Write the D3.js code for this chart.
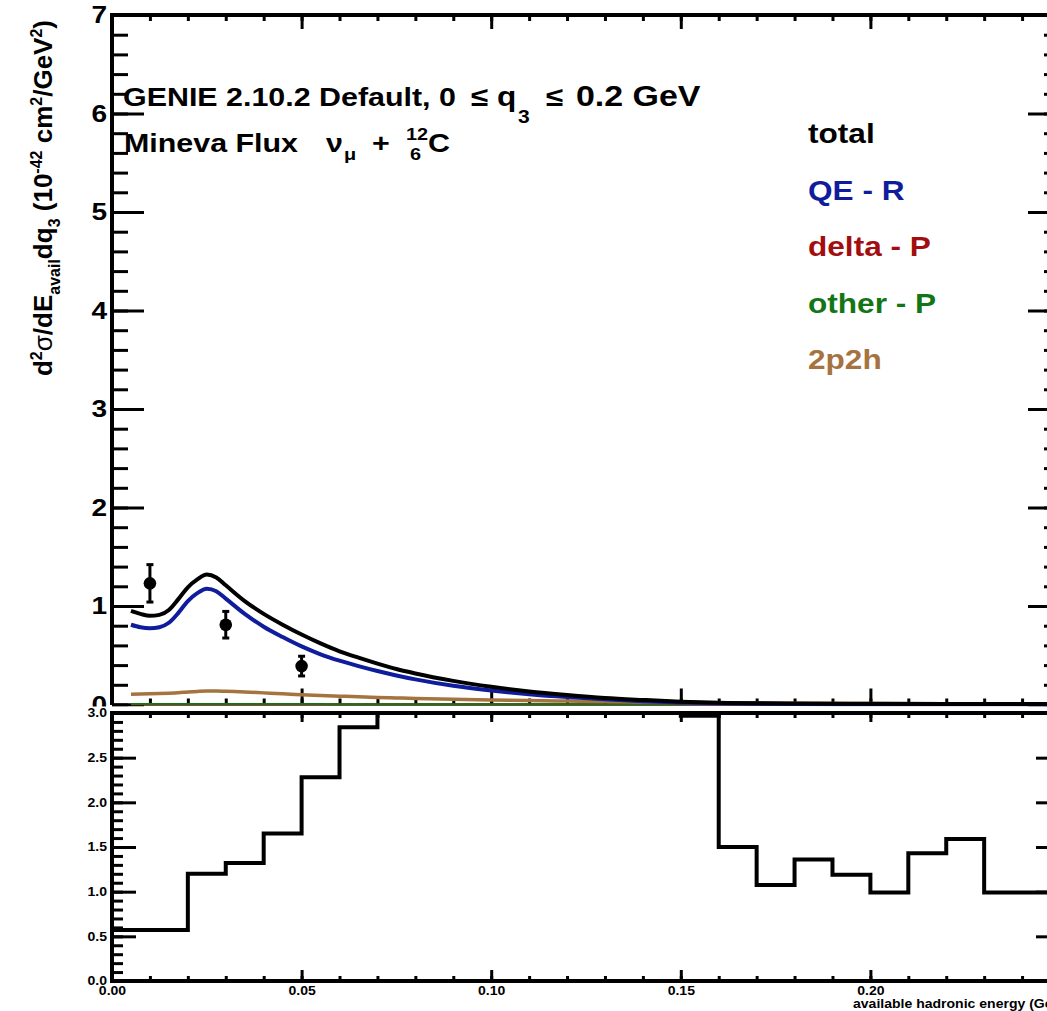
<!DOCTYPE html>
<html>
<head>
<meta charset="utf-8">
<script src="https://cdn.jsdelivr.net/npm/d3@7"></script>
<style>
  body { margin: 0; background: #fff; }
  svg { display: block; }
  text { font-family: "Liberation Sans", Arial, Helvetica, sans-serif; font-weight: bold; }
</style>
</head>
<body>
<svg id="chart" width="1047" height="1011"></svg>
<script>
// ---- model predictions, sampled in available hadronic energy (GeV) ----
const energy = [0.005, 0.0075, 0.01, 0.0125, 0.015, 0.0175, 0.02, 0.0225, 0.025, 0.0275, 0.03,
  0.035, 0.04, 0.045, 0.05, 0.055, 0.06, 0.065, 0.07, 0.075, 0.08, 0.09, 0.10, 0.11, 0.12,
  0.13, 0.14, 0.15, 0.16, 0.18, 0.20, 0.22, 0.25];
const total = [0.95, 0.92, 0.90, 0.91, 0.96, 1.07, 1.19, 1.27, 1.32, 1.29, 1.21,
  1.05, 0.92, 0.81, 0.71, 0.62, 0.54, 0.475, 0.415, 0.36, 0.315, 0.24, 0.18, 0.132, 0.096,
  0.066, 0.046, 0.029, 0.019, 0.010, 0.007, 0.006, 0.005];
const qeR = [0.81, 0.785, 0.775, 0.785, 0.83, 0.93, 1.05, 1.13, 1.175, 1.15, 1.075,
  0.92, 0.79, 0.685, 0.59, 0.51, 0.445, 0.39, 0.34, 0.295, 0.255, 0.19, 0.142, 0.104, 0.075,
  0.052, 0.034, 0.021, 0.013, 0.005, 0.003, 0.002, 0.001];
const deltaP = [0, 0, 0, 0, 0, 0, 0, 0, 0, 0, 0,
  0, 0, 0, 0, 0, 0, 0, 0, 0, 0, 0, 0, 0, 0,
  0, 0, 0, 0, 0, 0, 0, 0];
const otherP = [0.004, 0.004, 0.004, 0.004, 0.004, 0.004, 0.004, 0.004, 0.004, 0.004, 0.004,
  0.004, 0.004, 0.004, 0.004, 0.004, 0.003, 0.003, 0.003, 0.003, 0.003, 0.003, 0.003, 0.003, 0.002,
  0.002, 0.002, 0.002, 0.002, 0.002, 0.001, 0.001, 0.001];
const twoP2h = [0.105, 0.106, 0.108, 0.111, 0.115, 0.12, 0.127, 0.133, 0.137, 0.137, 0.135,
  0.128, 0.118, 0.108, 0.10, 0.092, 0.085, 0.078, 0.072, 0.067, 0.062, 0.053, 0.046, 0.04, 0.035,
  0.03, 0.026, 0.022, 0.018, 0.012, 0.009, 0.007, 0.005];

// ---- measured cross section with uncertainties ----
const dataE = [0.01, 0.03, 0.05];
const dataY = [1.23, 0.81, 0.39];
const dataErr = [0.19, 0.135, 0.10];

// ---- ratio histogram, 0.01 GeV bins (low edges) ----
const binLow = [0.00, 0.01, 0.02, 0.03, 0.04, 0.05, 0.06, 0.07, 0.08, 0.09, 0.10, 0.11, 0.12,
  0.13, 0.14, 0.15, 0.16, 0.17, 0.18, 0.19, 0.20, 0.21, 0.22, 0.23, 0.24, 0.25];
const ratio = [0.57, 0.57, 1.20, 1.32, 1.65, 2.28, 2.84, 3.4, 3.9, 4.5, 5.2, 5.9, 6.3,
  4.8, 3.0, 2.97, 1.50, 1.075, 1.36, 1.19, 0.99, 1.43, 1.59, 0.99, 0.99, 0.99];
const binWidth = 0.01;

// ---- legend / labels ----
const legendLabels = ["total", "QE - R", "delta - P", "other - P", "2p2h"];
const legendColors = ["#000000", "#0f1c9b", "#a30d10", "#137616", "#a5733f"];
const topTicks = [0, 1, 2, 3, 4, 5, 6, 7];
const ratioTicks = [0, 0.5, 1.0, 1.5, 2.0, 2.5, 3.0];
const energyTicks = [0, 0.05, 0.10, 0.15, 0.20, 0.25];

const SX = 1.17; // horizontal glyph stretch of the labels
const svg = d3.select("#chart");
const defs = svg.append("defs");

const x = d3.scaleLinear().domain([0, 0.25]).range([112, 1060]);
const yTop = d3.scaleLinear().domain([0, 7]).range([704.5, 15]);
const yBot = d3.scaleLinear().domain([0, 3]).range([981, 713]);

function stretch(sel) {
  sel.selectAll(".tick text").each(function () {
    const t = d3.select(this);
    const tx = +t.attr("x") || 0, ty = +t.attr("y") || 0;
    t.attr("transform", `translate(${tx},${ty}) scale(${SX},1)`).attr("x", 0).attr("y", 0);
  });
}
function styleAxis(g, w) {
  g.select(".domain").remove();
  g.selectAll(".tick line").attr("stroke", "#000").attr("stroke-width", w);
}
function label(txt, px, py, size, color, anchor) {
  return svg.append("text")
    .attr("transform", `translate(${px},${py}) scale(${SX},1)`)
    .attr("font-size", size).attr("fill", color || "#000")
    .attr("text-anchor", anchor || "start").text(txt);
}

// ================= upper panel =================
const upper = svg.append("g");
const minorE = d3.range(0, 0.2501, 0.01);
const minorTop = d3.range(0, 7.001, 0.2);

// y axes (left labelled, right mirror)
upper.append("g").attr("transform", "translate(112,0)")
  .call(d3.axisLeft(yTop).tickValues(minorTop).tickSize(-16).tickFormat(""))
  .call(styleAxis, 3);
const yl = upper.append("g").attr("transform", "translate(112,0)")
  .call(d3.axisLeft(yTop).tickValues(topTicks).tickSize(-32).tickPadding(5).tickFormat(d3.format("d")))
  .call(styleAxis, 3);
yl.selectAll("text").attr("font-size", 24).attr("fill", "#000");
stretch(yl);
upper.append("g").attr("transform", "translate(1060,0)")
  .call(d3.axisRight(yTop).tickValues(minorTop).tickSize(-16).tickFormat(""))
  .call(styleAxis, 3);
upper.append("g").attr("transform", "translate(1060,0)")
  .call(d3.axisRight(yTop).tickValues(topTicks).tickSize(-32).tickFormat(""))
  .call(styleAxis, 3);

// x axes of the upper panel (no labels)
upper.append("g").attr("transform", "translate(0,704.5)")
  .call(d3.axisBottom(x).tickValues(minorE).tickSize(-6).tickFormat(""))
  .call(styleAxis, 3);
upper.append("g").attr("transform", "translate(0,704.5)")
  .call(d3.axisBottom(x).tickValues(energyTicks).tickSize(-16).tickFormat(""))
  .call(styleAxis, 3);
upper.append("g").attr("transform", "translate(0,15)")
  .call(d3.axisTop(x).tickValues(minorE).tickSize(-6).tickFormat(""))
  .call(styleAxis, 3);
upper.append("g").attr("transform", "translate(0,15)")
  .call(d3.axisTop(x).tickValues(energyTicks).tickSize(-14).tickFormat(""))
  .call(styleAxis, 3);

// frame
upper.append("line").attr("x1", 112).attr("x2", 1060).attr("y1", 704.5).attr("y2", 704.5)
  .attr("stroke", "#000").attr("stroke-width", 2);
upper.append("line").attr("x1", 112).attr("x2", 112).attr("y1", 13).attr("y2", 705)
  .attr("stroke", "#000").attr("stroke-width", 4);
upper.append("line").attr("x1", 110).attr("x2", 1062).attr("y1", 15).attr("y2", 15)
  .attr("stroke", "#000").attr("stroke-width", 4);

// model curves
defs.append("clipPath").attr("id", "clipTop")
  .append("rect").attr("x", 112).attr("y", 15).attr("width", 948).attr("height", 692);
const curve = d3.line().x((d) => x(d[0])).y((d) => yTop(d[1])).curve(d3.curveMonotoneX);
const series = [
  { v: deltaP, c: legendColors[2], w: 2 },
  { v: otherP, c: legendColors[3], w: 2 },
  { v: twoP2h, c: legendColors[4], w: 3.5 },
  { v: qeR, c: legendColors[1], w: 4 },
  { v: total, c: legendColors[0], w: 4 }
];
const curves = upper.append("g").attr("clip-path", "url(#clipTop)");
series.forEach((s) => {
  curves.append("path").datum(energy.map((e, i) => [e, s.v[i]]))
    .attr("d", curve).attr("fill", "none").attr("stroke", s.c)
    .attr("stroke-width", s.w).attr("stroke-linejoin", "round");
});

// data points with error bars
const pts = upper.append("g");
dataE.forEach((e, i) => {
  const px = x(e), lo = yTop(dataY[i] - dataErr[i]), hi = yTop(dataY[i] + dataErr[i]);
  pts.append("line").attr("x1", px).attr("x2", px).attr("y1", lo).attr("y2", hi)
    .attr("stroke", "#000").attr("stroke-width", 3);
  [lo, hi].forEach((yy) => pts.append("line").attr("x1", px - 3.5).attr("x2", px + 3.5)
    .attr("y1", yy).attr("y2", yy).attr("stroke", "#000").attr("stroke-width", 3));
  pts.append("circle").attr("cx", px).attr("cy", yTop(dataY[i])).attr("r", 6.3).attr("fill", "#000");
});

// y title
const yt = svg.append("text").attr("transform", "translate(52,198) rotate(-90)")
  .attr("text-anchor", "middle").attr("font-size", 26).attr("fill", "#000");
yt.append("tspan").text("d");
yt.append("tspan").attr("font-size", 16).attr("dy", -10).text("2");
yt.append("tspan").attr("dy", 10).attr("font-weight", "normal").text("σ");
yt.append("tspan").text("/dE");
yt.append("tspan").attr("font-size", 16).attr("dy", 8).text("avail");
yt.append("tspan").attr("dy", -8).text("dq");
yt.append("tspan").attr("font-size", 16).attr("dy", 8).text("3");
yt.append("tspan").attr("dy", -8).text(" (10");
yt.append("tspan").attr("font-size", 16).attr("dy", -10).text("-42");
yt.append("tspan").attr("dy", 10).text(" cm");
yt.append("tspan").attr("font-size", 16).attr("dy", -10).text("2");
yt.append("tspan").attr("dy", 10).text("/GeV");
yt.append("tspan").attr("font-size", 16).attr("dy", -10).text("2");
yt.append("tspan").attr("dy", 10).text(")");

// header text
label("GENIE 2.10.2 Default, 0", 123, 106, 26);
label("≤", 471, 106, 27);
label("q", 497, 106, 27);
label("3", 518, 123, 18);
label("≤", 546, 106, 27);
label("0.2 GeV", 576, 106, 29);
label("Mineva Flux", 124, 152, 26);
svg.append("text").attr("transform", `translate(326,152) scale(${SX},1)`)
  .attr("font-size", 26).attr("font-weight", "normal").text("ν");
svg.append("text").attr("transform", `translate(344,160) scale(${SX},1)`)
  .attr("font-size", 17).attr("font-weight", "normal").text("μ");
label("+", 372, 152, 26);
label("12", 406, 140, 17);
label("6", 410, 160, 17);
label("C", 428, 152, 26);

// legend
legendLabels.forEach((t, i) => label(t, 808, 143 + i * 56.5, 27, legendColors[i]));

// ================= ratio panel =================
svg.append("rect").attr("x", 0).attr("y", 706.5).attr("width", 1047).attr("height", 305).attr("fill", "#fff");
const lower = svg.append("g");
const minorBot = d3.range(0, 3.001, 0.1);

lower.append("g").attr("transform", "translate(112,0)")
  .call(d3.axisLeft(yBot).tickValues(minorBot).tickSize(-11).tickFormat(""))
  .call(styleAxis, 3);
const bl = lower.append("g").attr("transform", "translate(112,0)")
  .call(d3.axisLeft(yBot).tickValues(ratioTicks).tickSize(-24).tickPadding(5).tickFormat(d3.format(".1f")))
  .call(styleAxis, 3);
bl.selectAll("text").attr("font-size", 12).attr("fill", "#000");
stretch(bl);
lower.append("g").attr("transform", "translate(1060,0)")
  .call(d3.axisRight(yBot).tickValues(minorBot).tickSize(-11).tickFormat(""))
  .call(styleAxis, 3);
lower.append("g").attr("transform", "translate(1060,0)")
  .call(d3.axisRight(yBot).tickValues(ratioTicks).tickSize(-24).tickFormat(""))
  .call(styleAxis, 3);

lower.append("g").attr("transform", "translate(0,981)")
  .call(d3.axisBottom(x).tickValues(minorE).tickSize(-5).tickFormat(""))
  .call(styleAxis, 3);
const xl = lower.append("g").attr("transform", "translate(0,981)")
  .call(d3.axisBottom(x).tickValues(energyTicks).tickSize(-11).tickPadding(5).tickFormat(d3.format(".2f")))
  .call(styleAxis, 3);
xl.selectAll("text").attr("font-size", 12).attr("fill", "#000");
stretch(xl);
lower.append("g").attr("transform", "translate(0,713)")
  .call(d3.axisTop(x).tickValues(minorE).tickSize(-5).tickFormat(""))
  .call(styleAxis, 3);
lower.append("g").attr("transform", "translate(0,713)")
  .call(d3.axisTop(x).tickValues(energyTicks).tickSize(-9).tickFormat(""))
  .call(styleAxis, 3);

// ratio histogram
defs.append("clipPath").attr("id", "clipBot")
  .append("rect").attr("x", 112).attr("y", 711).attr("width", 948).attr("height", 272);
const steps = binLow.map((b, i) => [b, ratio[i]]);
steps.push([binLow[binLow.length - 1] + binWidth, ratio[ratio.length - 1]]);
lower.append("path").attr("clip-path", "url(#clipBot)")
  .datum(steps)
  .attr("d", d3.line().x((d) => x(d[0])).y((d) => yBot(d[1])).curve(d3.curveStepAfter))
  .attr("fill", "none").attr("stroke", "#000").attr("stroke-width", 4);

// ratio frame
lower.append("line").attr("x1", 112).attr("x2", 112).attr("y1", 711).attr("y2", 983)
  .attr("stroke", "#000").attr("stroke-width", 4);
lower.append("line").attr("x1", 110).attr("x2", 1062).attr("y1", 713).attr("y2", 713)
  .attr("stroke", "#000").attr("stroke-width", 4);
lower.append("line").attr("x1", 110).attr("x2", 1062).attr("y1", 981).attr("y2", 981)
  .attr("stroke", "#000").attr("stroke-width", 4);

label("available hadronic energy (GeV)", 853, 1008, 12);
</script>
</body>
</html>
